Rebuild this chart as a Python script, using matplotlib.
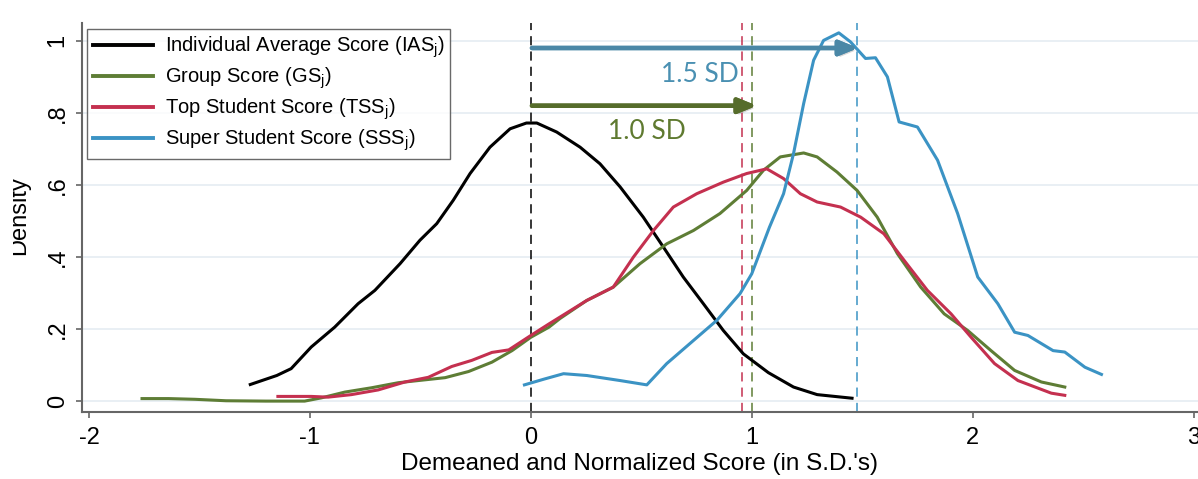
import matplotlib
matplotlib.use("Agg")
import matplotlib.pyplot as plt
import matplotlib.patheffects as pe
from matplotlib.transforms import Bbox

plt.rcParams['font.family'] = ['Liberation Sans', 'DejaVu Sans']
plt.rcParams['mathtext.fontset'] = 'custom'
plt.rcParams['mathtext.rm'] = 'Liberation Sans'
plt.rcParams['mathtext.it'] = 'Liberation Sans:italic'

# densities
ias_x = [-1.27, -1.15, -1.085, -0.994, -0.888, -0.782, -0.706, -0.592, -0.502, -0.426, -0.351, -0.275,
         -0.185, -0.094, -0.02, 0.027, 0.117, 0.223, 0.313, 0.404, 0.509, 0.60, 0.69, 0.781, 0.871,
         0.962, 1.075, 1.189, 1.296, 1.454]
ias_y = [0.047, 0.072, 0.091, 0.151, 0.206, 0.271, 0.308, 0.382, 0.447, 0.493, 0.558, 0.632,
         0.705, 0.756, 0.772, 0.772, 0.747, 0.705, 0.659, 0.595, 0.511, 0.428, 0.345, 0.271, 0.197,
         0.132, 0.08, 0.04, 0.019, 0.009]

gs_x = [-1.76, -1.64, -1.52, -1.38, -1.2, -1.024, -0.948, -0.842, -0.721, -0.6, -0.479, -0.388,
        -0.282, -0.176, -0.085, 0.0, 0.082, 0.132, 0.253, 0.373, 0.494, 0.615, 0.736, 0.856, 0.977,
        1.053, 1.129, 1.235, 1.296, 1.386, 1.477, 1.568, 1.659, 1.765, 1.871, 1.977, 2.083, 2.19,
        2.311, 2.417]
gs_y = [0.008, 0.008, 0.006, 0.002, 0.001, 0.001, 0.01, 0.026, 0.038, 0.052, 0.06, 0.066,
        0.083, 0.109, 0.141, 0.178, 0.206, 0.23, 0.28, 0.317, 0.382, 0.437, 0.474, 0.521, 0.585,
        0.641, 0.678, 0.689, 0.678, 0.636, 0.585, 0.511, 0.41, 0.317, 0.243, 0.197, 0.141, 0.086,
        0.054, 0.04]

tss_x = [-1.145, -0.994, -0.918, -0.812, -0.691, -0.57, -0.464, -0.358, -0.267, -0.176, -0.1, 0.0,
         0.082, 0.132, 0.253, 0.373, 0.464, 0.555, 0.645, 0.751, 0.871, 0.977, 1.068, 1.144, 1.22,
         1.296, 1.402, 1.493, 1.598, 1.69, 1.795, 1.902, 1.993, 2.099, 2.205, 2.356, 2.417]
tss_y = [0.014, 0.014, 0.012, 0.019, 0.032, 0.054, 0.067, 0.097, 0.114, 0.136, 0.143, 0.183,
         0.215, 0.234, 0.28, 0.317, 0.4, 0.474, 0.539, 0.576, 0.608, 0.632, 0.645, 0.618, 0.576,
         0.553, 0.539, 0.511, 0.465, 0.391, 0.308, 0.243, 0.178, 0.105, 0.058, 0.023, 0.017]

sss_x = [-0.029, 0.06, 0.148, 0.253, 0.404, 0.525, 0.615, 0.736, 0.842, 0.947, 1.0, 1.08, 1.144,
         1.189, 1.235, 1.28, 1.325, 1.394, 1.447, 1.515, 1.56, 1.614, 1.667, 1.75, 1.841, 1.932,
         2.023, 2.114, 2.19, 2.25, 2.364, 2.417, 2.508, 2.583]
sss_y = [0.046, 0.062, 0.077, 0.072, 0.058, 0.046, 0.105, 0.169, 0.225, 0.299, 0.354, 0.483, 0.576,
         0.687, 0.826, 0.946, 1.001, 1.022, 0.997, 0.951, 0.953, 0.9, 0.775, 0.761, 0.669, 0.521,
         0.345, 0.271, 0.192, 0.183, 0.141, 0.137, 0.095, 0.075]

# means of each distribution (dashed lines): IAS, GS, TSS, SSS
means = [0.0, 1.0, 0.955, 1.477]

labels = ['Individual Average Score (IAS$_\\mathrm{j}$)', 'Group Score (GS$_\\mathrm{j}$)',
          'Top Student Score (TSS$_\\mathrm{j}$)', 'Super Student Score (SSS$_\\mathrm{j}$)']
colors = ['#000000', '#5e7d35', '#c4304f', '#3b93c4']

yticks = [0, 0.2, 0.4, 0.6, 0.8, 1.0]
ytick_labels = ['0', '.2', '.4', '.6', '.8', '1']
xticks = [-2, -1, 0, 1, 2, 3]

fig = plt.figure(figsize=(11.98, 4.79), dpi=100)
ax = fig.add_axes([0.0684, 0.1395, 0.9316, 0.8130])

for y in yticks:
    ax.axhline(y, color='#e7eef3', lw=1.3, zorder=0)

for xs, ys, c, lab in zip([ias_x, gs_x, tss_x, sss_x], [ias_y, gs_y, tss_y, sss_y], colors, labels):
    ax.plot(xs, ys, color=c, lw=2.2, label=lab, zorder=3)

for m, c in zip(means, colors):
    ax.axvline(m, color=c, lw=1.1, ls=(0, (6, 4)), zorder=2)

# arrows with a soft shadow
shadow = [pe.withSimplePatchShadow(offset=(2, -2), shadow_rgbFace='#888888', alpha=0.35), pe.Normal()]
a1 = ax.annotate('', xy=(1.481, 0.98), xytext=(0.005, 0.98),
                 arrowprops=dict(arrowstyle='-|>,head_length=1.1,head_width=0.45', lw=3.2,
                                 color='#4a87a6', shrinkA=0, shrinkB=0), zorder=4)
a1.arrow_patch.set_path_effects(shadow)
a2 = ax.annotate('', xy=(1.023, 0.82), xytext=(0.005, 0.82),
                 arrowprops=dict(arrowstyle='-|>,head_length=1.1,head_width=0.45', lw=3.2,
                                 color='#566c2b', shrinkA=0, shrinkB=0), zorder=4)
a2.arrow_patch.set_path_effects(shadow)

ax.text(0.767, 0.906, '1.5 SD', ha='center', va='center', fontsize=19, color='#4a90b2',
        family=['Lato', 'DejaVu Sans'], zorder=5)
ax.text(0.525, 0.749, '1.0 SD', ha='center', va='center', fontsize=19, color='#5f7a30',
        family=['Lato', 'DejaVu Sans'], zorder=5)

ax.set_xlim(-2.032, 3.02)
ax.set_ylim(-0.0297, 1.05)
ax.set_xticks(xticks)
ax.set_xticklabels([str(t) for t in xticks])
ax.set_yticks(yticks)
ax.set_yticklabels(ytick_labels, rotation=90, va='center')
ax.tick_params(axis='both', direction='out', length=4.5, width=1.2, color='#666666', labelsize=17)
ax.tick_params(axis='x', pad=6)
ax.tick_params(axis='y', pad=5)
for s in ['top', 'right']:
    ax.spines[s].set_visible(False)
for s in ['left', 'bottom']:
    ax.spines[s].set_color('#666666')
    ax.spines[s].set_linewidth(1.5)

ax.set_xlabel("Demeaned and Normalized Score (in S.D.'s)", fontsize=17.5, labelpad=3)

leg = ax.legend(loc='upper left', bbox_to_anchor=(0.0045, 0.985), borderaxespad=0, fontsize=14.5,
                frameon=True, fancybox=False, edgecolor='#444444', handlelength=3.0,
                handletextpad=0.55, labelspacing=0.27, borderpad=0.3)
leg.get_frame().set_linewidth(1.0)
for h in leg.get_lines():
    h.set_linewidth(2.8)

# y-axis title, cut at the left edge as in the source image
t = fig.text(19 / 1198, 1 - 216 / 479, 'Density', rotation=90, ha='center', va='center',
             fontsize=17)
t.set_clip_box(Bbox.from_extents(13, 0, 1198, 479))
t.set_clip_on(True)

fig.savefig('out.png', dpi=100, facecolor='white')
